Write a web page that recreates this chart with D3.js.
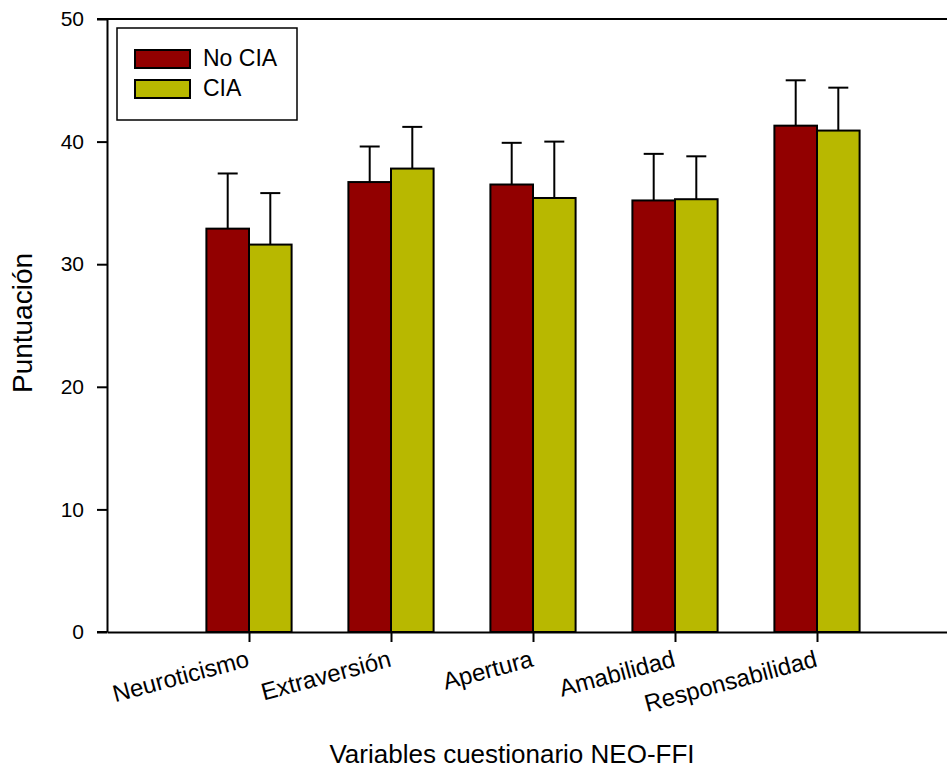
<!DOCTYPE html>
<html>
<head>
<meta charset="utf-8">
<script src="https://cdn.jsdelivr.net/npm/d3@7"></script>
<style>
  body { margin: 0; background: #fff; overflow: hidden; }
  svg text { font-family: "Liberation Sans", Arial, sans-serif; fill: #000; }
</style>
</head>
<body>
<div id="chart"></div>
<script>
let categories = ["Neuroticismo", "Extraversión", "Apertura", "Amabilidad", "Responsabilidad"];
let seriesNames = ["No CIA", "CIA"];
let noCiaMean = [32.9, 36.7, 36.5, 35.2, 41.3];
let noCiaSd = [4.5, 2.9, 3.4, 3.8, 3.7];
let ciaMean = [31.6, 37.8, 35.4, 35.3, 40.9];
let ciaSd = [4.2, 3.4, 4.6, 3.5, 3.5];
let yTicks = [0, 10, 20, 30, 40, 50];
let colors = ["#920000", "#b8b800"];

let width = 947;
let height = 776;

let svg = d3.select('#chart').append('svg')
  .attr('width', width)
  .attr('height', height);

let x = d3.scaleLinear().domain([0, 6]).range([107, 959]);
let y = d3.scaleLinear().domain([0, 50]).range([632, 19]);
let bw = x(0.3) - x(0);

// top frame line
svg.append('line')
  .attr('x1', 97).attr('x2', x(6))
  .attr('y1', y(50)).attr('y2', y(50))
  .attr('stroke', '#000').attr('stroke-width', 2);

let series = [
  { name: seriesNames[0], mean: noCiaMean, sd: noCiaSd, color: colors[0], off: -1 },
  { name: seriesNames[1], mean: ciaMean, sd: ciaSd, color: colors[1], off: 0 }
];

series.forEach(s => {
  let g = svg.append('g');
  let rows = s.mean.map((m, i) => ({ m: m, sd: s.sd[i], i: i }));
  // error bars (upper only)
  g.selectAll('line.err')
    .data(rows).enter().append('line')
    .attr('x1', d => x(d.i + 1) + (s.off + 0.5) * bw)
    .attr('x2', d => x(d.i + 1) + (s.off + 0.5) * bw)
    .attr('y1', d => y(d.m))
    .attr('y2', d => y(d.m + d.sd))
    .attr('stroke', '#000').attr('stroke-width', 2);
  g.selectAll('line.cap')
    .data(rows).enter().append('line')
    .attr('x1', d => x(d.i + 1) + (s.off + 0.5) * bw - 10)
    .attr('x2', d => x(d.i + 1) + (s.off + 0.5) * bw + 10)
    .attr('y1', d => y(d.m + d.sd))
    .attr('y2', d => y(d.m + d.sd))
    .attr('stroke', '#000').attr('stroke-width', 2);
  g.selectAll('rect')
    .data(rows).enter().append('rect')
    .attr('x', d => x(d.i + 1) + s.off * bw)
    .attr('y', d => y(d.m))
    .attr('width', bw)
    .attr('height', d => y(0) - y(d.m))
    .attr('fill', s.color)
    .attr('stroke', '#000').attr('stroke-width', 2);
});

// y axis
let yAxis = svg.append('g')
  .attr('transform', 'translate(107,0)')
  .call(d3.axisLeft(y).tickValues(yTicks).tickSize(10).tickPadding(13).tickSizeOuter(0));
yAxis.selectAll('line').attr('stroke-width', 2);
yAxis.select('.domain').attr('stroke-width', 2);
yAxis.selectAll('text').style('font-size', '21px');

// x axis
let xAxis = svg.append('g')
  .attr('transform', 'translate(0,632)')
  .call(d3.axisBottom(x).tickValues([1, 2, 3, 4, 5]).tickFormat(d => categories[d - 1]).tickSize(10).tickSizeOuter(0));
xAxis.select('.domain').attr('stroke-width', 2);
xAxis.selectAll('line').attr('stroke-width', 2);
xAxis.selectAll('text')
  .style('font-size', '24px')
  .attr('y', null).attr('dy', null)
  .attr('text-anchor', 'end')
  .attr('transform', 'translate(1,34) rotate(-15)');
// extend the x axis line left to the 0 tick
svg.append('line')
  .attr('x1', 97).attr('x2', 107)
  .attr('y1', 632).attr('y2', 632)
  .attr('stroke', '#000').attr('stroke-width', 2);

// axis titles
svg.append('text')
  .attr('x', 512).attr('y', 763)
  .attr('text-anchor', 'middle')
  .style('font-size', '26px')
  .text('Variables cuestionario NEO-FFI');
svg.append('text')
  .attr('transform', 'translate(32,323) rotate(-90)')
  .attr('text-anchor', 'middle')
  .style('font-size', '28px')
  .text('Puntuación');

// legend
let lg = svg.append('g');
lg.append('rect')
  .attr('x', 117).attr('y', 28).attr('width', 180).attr('height', 92)
  .attr('fill', '#fff').attr('stroke', '#000').attr('stroke-width', 1.5);
series.forEach((s, i) => {
  lg.append('rect')
    .attr('x', 135).attr('y', 50 + i * 30).attr('width', 55).attr('height', 18)
    .attr('fill', s.color).attr('stroke', '#000').attr('stroke-width', 2);
  lg.append('text')
    .attr('x', 203).attr('y', 66 + i * 30)
    .style('font-size', '23px')
    .text(s.name);
});
</script>
</body>
</html>
